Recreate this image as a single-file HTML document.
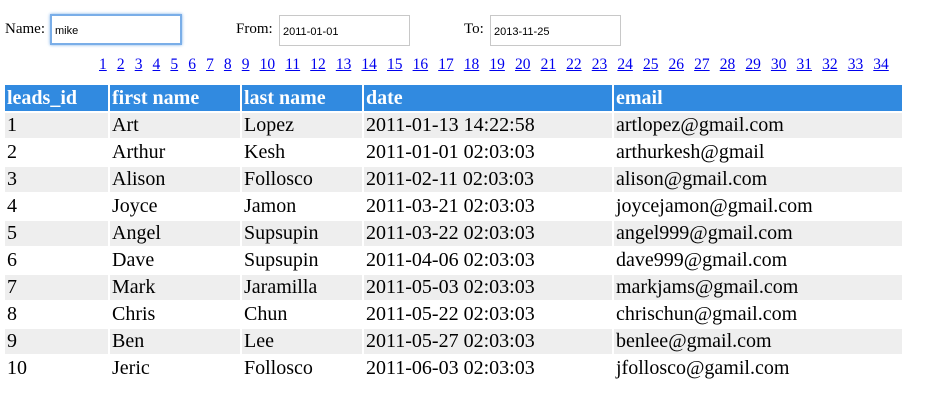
<!DOCTYPE html>
<html><head><meta charset="utf-8"><style>
body{margin:0;width:931px;height:412px;background:#fff;font-family:"Liberation Serif",serif;position:relative;overflow:hidden}
.lbl{position:absolute;font-size:15px;color:#000}
.inp{position:absolute;height:31px;border:1px solid #c8c8c8;box-sizing:border-box;font-family:"Liberation Sans",sans-serif;font-size:11px;padding:2px 3px 0;line-height:29px;background:#fff}
.focus{border:2px solid #7aaee8;box-shadow:0 0 3px #7aaee8;line-height:27px}
#pages{position:absolute;left:99px;top:56px;font-size:15.5px;white-space:nowrap}
#pages a{color:#0000ee;text-decoration:underline;margin-right:10.1px}
table{position:absolute;left:3px;top:83px;border-spacing:2px;font-size:20px}
th{background:#318ae0;color:#fff;text-align:left;font-weight:bold;height:26px;padding:0 2px;font-size:20px}
td{height:25px;padding:0 2px}
tr.o td{background:#eeeeee}
</style></head><body>
<span class="lbl" style="left:5px;top:21px">Name:</span>
<div class="inp focus" style="left:50px;top:14px;width:132px">mike</div>
<span class="lbl" style="left:236px;top:21px">From:</span>
<div class="inp" style="left:279px;top:15px;width:131px">2011-01-01</div>
<span class="lbl" style="left:464px;top:21px">To:</span>
<div class="inp" style="left:490px;top:15px;width:131px">2013-11-25</div>
<div id="pages"></div>
<table>
<colgroup><col style="width:103px"><col style="width:130px"><col style="width:120px"><col style="width:248px"><col style="width:288px"></colgroup>
<thead><tr><th>leads_id</th><th>first name</th><th>last name</th><th>date</th><th>email</th></tr></thead>
<tbody id="tb"></tbody></table>
<script>
var p=document.getElementById('pages');
for(var i=1;i<=34;i++){var a=document.createElement('a');a.href='#';a.textContent=i;


p.appendChild(a);}
var rows=[["1","Art","Lopez","2011-01-13 14:22:58","artlopez@gmail.com"],["2","Arthur","Kesh","2011-01-01 02:03:03","arthurkesh@gmail"],["3","Alison","Follosco","2011-02-11 02:03:03","alison@gmail.com"],["4","Joyce","Jamon","2011-03-21 02:03:03","joycejamon@gmail.com"],["5","Angel","Supsupin","2011-03-22 02:03:03","angel999@gmail.com"],["6","Dave","Supsupin","2011-04-06 02:03:03","dave999@gmail.com"],["7","Mark","Jaramilla","2011-05-03 02:03:03","markjams@gmail.com"],["8","Chris","Chun","2011-05-22 02:03:03","chrischun@gmail.com"],["9","Ben","Lee","2011-05-27 02:03:03","benlee@gmail.com"],["10","Jeric","Follosco","2011-06-03 02:03:03","jfollosco@gamil.com"]];
var tb=document.getElementById('tb');
rows.forEach(function(r,k){var tr=document.createElement('tr');if(k%2==0)tr.className='o';


r.forEach(function(c){var td=document.createElement('td');td.textContent=c;


tr.appendChild(td);});tb.appendChild(tr);});
</script>
</body></html>
